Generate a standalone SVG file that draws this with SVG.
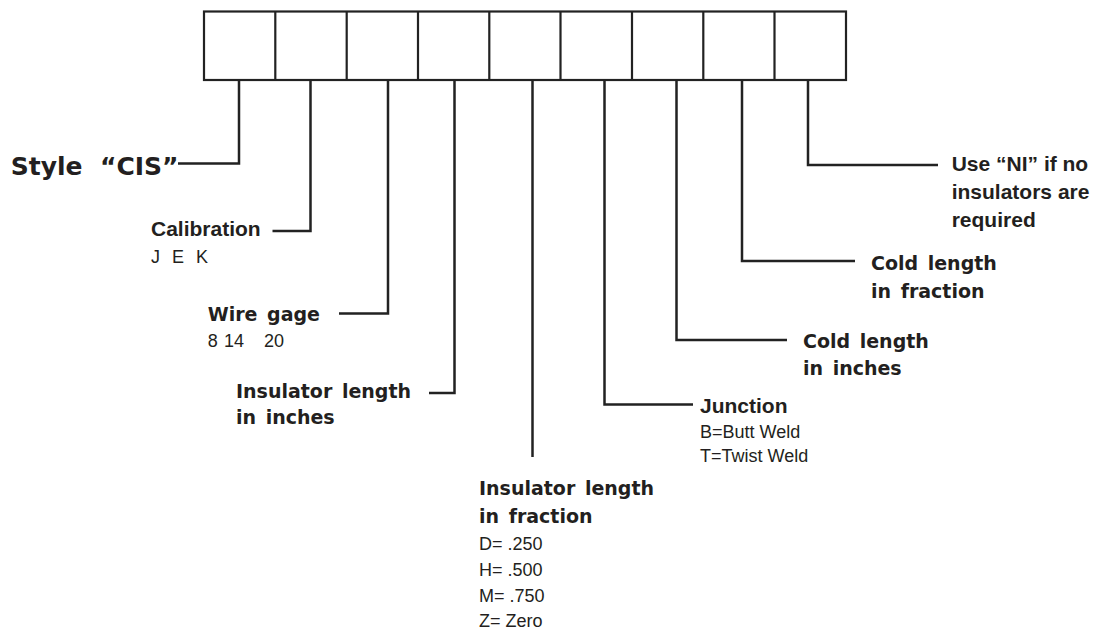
<svg xmlns="http://www.w3.org/2000/svg" width="1102" height="635" viewBox="0 0 1102 635">
<style>
.box{fill:#fff;stroke:#222;stroke-width:2.2}
.ln{fill:none;stroke:#222;stroke-width:2.5}
.wide{font-family:"DejaVu Sans",sans-serif;font-weight:bold;font-size:19px;fill:#231f20;word-spacing:3px}
.hb{font-family:"Liberation Sans",Arial,sans-serif;font-weight:bold;font-size:21px;fill:#231f20}
.reg{font-family:"Liberation Sans",Arial,sans-serif;font-size:18px;fill:#231f20}
</style>
<rect width="1102" height="635" fill="#fff"/>
<g id="code-boxes">
<rect class="box" x="204" y="11.5" width="642" height="68.5"/>
<path class="ln" style="stroke-width:2.2" d="M275.3 11.5V80M346.7 11.5V80M418 11.5V80M489.3 11.5V80M560.5 11.5V80M632 11.5V80M703.3 11.5V80M774.5 11.5V80"/>
</g>
<g id="connectors">
<path class="ln" d="M239 80V163.5H178"/>
<path class="ln" d="M310.5 80V231H272.5"/>
<path class="ln" d="M388 80V313.5H339"/>
<path class="ln" d="M454.5 80V393H429"/>
<path class="ln" d="M532.5 80V457"/>
<path class="ln" d="M604.5 80V404.5H693"/>
<path class="ln" d="M676.5 80V340H787"/>
<path class="ln" d="M742 80V261H855"/>
<path class="ln" d="M808 80V165H938"/>
</g>
<g id="style">
<text font-family="DejaVu Sans,sans-serif" font-weight="bold" font-size="25" fill="#231f20" y="175"><tspan x="10.7">Style</tspan><tspan x="100">“CIS”</tspan></text>
</g>
<g id="calibration">
<text class="hb" x="151" y="236">Calibration</text>
<text class="reg" x="151" y="263" style="word-spacing:7px">J E K</text>
</g>
<g id="wire-gage">
<text class="wide" x="207.7" y="320.7">Wire gage</text>
<text class="reg" y="347"><tspan x="207.7">8</tspan><tspan x="224">14</tspan><tspan x="264">20</tspan></text>
</g>
<g id="insulator-inches">
<text class="wide" x="236" y="398.3">Insulator length</text>
<text class="wide" x="236" y="424">in inches</text>
</g>
<g id="insulator-fraction">
<text class="wide" x="479" y="495">Insulator length</text>
<text class="wide" x="479" y="523.3">in fraction</text>
<text class="reg" x="479" y="550">D= .250</text>
<text class="reg" x="479" y="576">H= .500</text>
<text class="reg" x="479" y="601.7">M= .750</text>
<text class="reg" x="479" y="626.7">Z= Zero</text>
</g>
<g id="junction">
<text class="hb" x="700" y="413.3">Junction</text>
<text class="reg" x="700" y="438.3">B=Butt Weld</text>
<text class="reg" x="700" y="461.7">T=Twist Weld</text>
</g>
<g id="cold-inches">
<text class="wide" x="803" y="348.3">Cold length</text>
<text class="wide" x="803" y="375">in inches</text>
</g>
<g id="cold-fraction">
<text class="wide" x="871" y="270">Cold length</text>
<text class="wide" x="871" y="297.7">in fraction</text>
</g>
<g id="no-insulators">
<text class="hb" x="951.7" y="171">Use “NI” if no</text>
<text class="hb" x="951.7" y="199">insulators are</text>
<text class="hb" x="951.7" y="227">required</text>
</g>
</svg>
